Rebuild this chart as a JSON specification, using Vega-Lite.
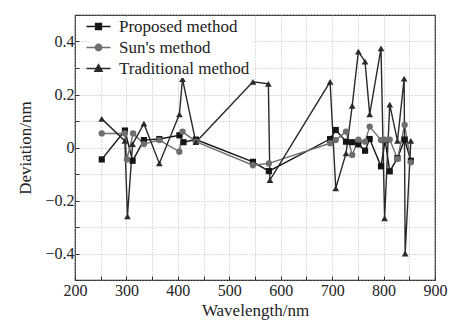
{
  "$schema": "https://vega.github.io/schema/vega-lite/v6.json",
  "autosize": {"type": "none"},
  "padding": {"left": 75, "top": 15, "right": 19, "bottom": 49},
  "width": 360,
  "height": 265,
  "background": "white",
  "config": {
    "view": {"stroke": "#222", "strokeWidth": 1.2},
    "axis": {
      "domain": false,
      "grid": true,
      "gridColor": "#aaa",
      "gridDash": [1, 2],
      "gridWidth": 0.8,
      "tickColor": "#333",
      "tickSize": -4,
      "labelFlush": false,
      "labelFontSize": 16,
      "labelColor": "#222",
      "titleFontSize": 17,
      "titleFontWeight": "normal",
      "titleColor": "#222"
    }
  },
  "data": {
    "values": [
      {"series": "Proposed method", "wl": 252, "dev": -0.045},
      {"series": "Proposed method", "wl": 297, "dev": 0.064},
      {"series": "Proposed method", "wl": 312, "dev": -0.05},
      {"series": "Proposed method", "wl": 334, "dev": 0.028},
      {"series": "Proposed method", "wl": 364, "dev": 0.032},
      {"series": "Proposed method", "wl": 403, "dev": 0.046},
      {"series": "Proposed method", "wl": 411, "dev": 0.02},
      {"series": "Proposed method", "wl": 435, "dev": 0.03},
      {"series": "Proposed method", "wl": 546, "dev": -0.054},
      {"series": "Proposed method", "wl": 577, "dev": -0.089},
      {"series": "Proposed method", "wl": 696, "dev": 0.032},
      {"series": "Proposed method", "wl": 707, "dev": 0.066},
      {"series": "Proposed method", "wl": 727, "dev": 0.022},
      {"series": "Proposed method", "wl": 739, "dev": 0.02},
      {"series": "Proposed method", "wl": 751, "dev": 0.012},
      {"series": "Proposed method", "wl": 764, "dev": -0.012},
      {"series": "Proposed method", "wl": 773, "dev": 0.032},
      {"series": "Proposed method", "wl": 795, "dev": -0.071},
      {"series": "Proposed method", "wl": 803, "dev": 0.028},
      {"series": "Proposed method", "wl": 812, "dev": -0.09},
      {"series": "Proposed method", "wl": 827, "dev": -0.04},
      {"series": "Proposed method", "wl": 841, "dev": 0.03},
      {"series": "Proposed method", "wl": 853, "dev": -0.05},
      {"series": "Sun's method", "wl": 252, "dev": 0.053},
      {"series": "Sun's method", "wl": 297, "dev": 0.053},
      {"series": "Sun's method", "wl": 301, "dev": -0.045},
      {"series": "Sun's method", "wl": 313, "dev": 0.053},
      {"series": "Sun's method", "wl": 334, "dev": 0.013},
      {"series": "Sun's method", "wl": 364, "dev": 0.028},
      {"series": "Sun's method", "wl": 403, "dev": -0.016},
      {"series": "Sun's method", "wl": 409, "dev": 0.06},
      {"series": "Sun's method", "wl": 435, "dev": 0.022},
      {"series": "Sun's method", "wl": 546, "dev": -0.067},
      {"series": "Sun's method", "wl": 577, "dev": -0.06},
      {"series": "Sun's method", "wl": 696, "dev": 0.016},
      {"series": "Sun's method", "wl": 707, "dev": 0.028},
      {"series": "Sun's method", "wl": 727, "dev": 0.06},
      {"series": "Sun's method", "wl": 739, "dev": -0.028},
      {"series": "Sun's method", "wl": 751, "dev": 0.03},
      {"series": "Sun's method", "wl": 764, "dev": 0.022},
      {"series": "Sun's method", "wl": 773, "dev": 0.079},
      {"series": "Sun's method", "wl": 795, "dev": 0.028},
      {"series": "Sun's method", "wl": 803, "dev": 0.03},
      {"series": "Sun's method", "wl": 812, "dev": 0.03},
      {"series": "Sun's method", "wl": 827, "dev": -0.043},
      {"series": "Sun's method", "wl": 841, "dev": 0.085},
      {"series": "Sun's method", "wl": 853, "dev": -0.056},
      {"series": "Traditional method", "wl": 252, "dev": 0.108},
      {"series": "Traditional method", "wl": 297, "dev": 0.025},
      {"series": "Traditional method", "wl": 302, "dev": -0.26},
      {"series": "Traditional method", "wl": 312, "dev": 0.013},
      {"series": "Traditional method", "wl": 334, "dev": 0.09},
      {"series": "Traditional method", "wl": 364, "dev": -0.06},
      {"series": "Traditional method", "wl": 403, "dev": 0.125},
      {"series": "Traditional method", "wl": 409, "dev": 0.258},
      {"series": "Traditional method", "wl": 435, "dev": 0.02},
      {"series": "Traditional method", "wl": 546, "dev": 0.248},
      {"series": "Traditional method", "wl": 576, "dev": 0.24},
      {"series": "Traditional method", "wl": 579, "dev": -0.123},
      {"series": "Traditional method", "wl": 696, "dev": 0.248},
      {"series": "Traditional method", "wl": 707, "dev": -0.154},
      {"series": "Traditional method", "wl": 727, "dev": -0.022},
      {"series": "Traditional method", "wl": 739, "dev": 0.157},
      {"series": "Traditional method", "wl": 751, "dev": 0.362},
      {"series": "Traditional method", "wl": 764, "dev": 0.324},
      {"series": "Traditional method", "wl": 773, "dev": 0.125},
      {"series": "Traditional method", "wl": 795, "dev": 0.374},
      {"series": "Traditional method", "wl": 802, "dev": -0.267},
      {"series": "Traditional method", "wl": 812, "dev": 0.162},
      {"series": "Traditional method", "wl": 827, "dev": 0.025},
      {"series": "Traditional method", "wl": 840, "dev": 0.26},
      {"series": "Traditional method", "wl": 842, "dev": -0.4},
      {"series": "Traditional method", "wl": 853, "dev": 0.025}
    ]
  },
  "encoding": {
    "x": {
      "field": "wl", "type": "quantitative",
      "scale": {"domain": [200, 900], "nice": false},
      "axis": {
        "title": "Wavelength/nm",
        "titleFont": "serif",
        "labelFont": "serif",
        "values": [200, 250, 300, 350, 400, 450, 500, 550, 600, 650, 700, 750, 800, 850, 900],
        "labelExpr": "datum.value % 100 == 0 ? datum.label : ''",
        "labelPadding": 6,
        "titlePadding": 4
      }
    },
    "y": {
      "field": "dev", "type": "quantitative",
      "scale": {"domain": [-0.5, 0.5], "nice": false},
      "axis": {
        "title": "Deviation/nm",
        "titleFont": "serif",
        "labelFont": "serif",
        "values": [-0.5, -0.4, -0.3, -0.2, -0.1, 0, 0.1, 0.2, 0.3, 0.4, 0.5],
        "labelExpr": "(abs(round(datum.value * 10)) % 2 == 0 && abs(datum.value) < 0.45) ? format(datum.value, '~g') : ''",
        "labelPadding": 5,
        "titlePadding": 10
      }
    },
    "color": {
      "field": "series", "type": "nominal",
      "scale": {
        "domain": ["Proposed method", "Sun's method", "Traditional method"],
        "range": ["#151515", "#6e6e6e", "#2a2a2a"]
      },
      "legend": {
        "title": null, "orient": "none", "legendX": 14, "legendY": 2, "fillColor": "white",
        "padding": 1, "rowPadding": 3,
        "labelFont": "serif", "labelFontSize": 17, "labelColor": "#222",
        "symbolSize": 100, "labelOffset": 12,
        "encode": {
          "symbols": {
            "update": {
              "shape": {"signal": "datum.value == 'Proposed method' ? 'M-2.4,0H2.4M-0.6,-0.6H0.6V0.6H-0.6Z' : datum.value == \"Sun's method\" ? 'M-2.4,0H2.4M-0.65,0A0.65,0.65,0,1,0,0.65,0A0.65,0.65,0,1,0,-0.65,0Z' : 'M-2.4,0H2.4M0,-0.8L0.75,0.55H-0.75Z'"},
              "fill": {"signal": "datum.value == \"Sun's method\" ? '#6e6e6e' : '#1a1a1a'"},
              "stroke": {"signal": "datum.value == \"Sun's method\" ? '#6e6e6e' : '#1a1a1a'"},
              "strokeWidth": {"value": 1.3},
              "opacity": {"value": 1}
            }
          }
        }
      }
    }
  },
  "layer": [
    {"mark": {"type": "line", "strokeWidth": 1.4}},
    {
      "transform": [{"filter": "datum.series == 'Proposed method'"}],
      "mark": {"type": "point", "shape": "square", "filled": true, "opacity": 1, "size": 38}
    },
    {
      "transform": [{"filter": "datum.series == \"Sun's method\""}],
      "mark": {"type": "point", "shape": "circle", "filled": true, "opacity": 1, "size": 40}
    },
    {
      "transform": [{"filter": "datum.series == 'Traditional method'"}],
      "mark": {"type": "point", "shape": "triangle-up", "filled": true, "opacity": 1, "size": 45}
    }
  ]
}
